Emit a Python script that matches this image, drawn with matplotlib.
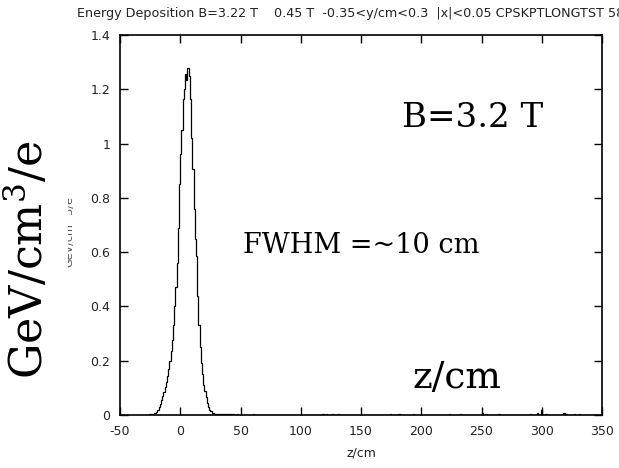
import numpy as np
import matplotlib
matplotlib.use("Agg")
import matplotlib.pyplot as plt
from matplotlib.patches import Rectangle

plt.rcParams['mathtext.fontset'] = 'dejavuserif'

# ---- data ----
bin_width = 1.0          # cm
z_start, z_stop = -30, 350
core_start = -30         # first bin of the peak region
core_values = [
    0, 0, 0, 0, 0.003, 0.003, 0.004, 0.005, 0.006, 0.009,            # -30..-21
    0.012, 0.018, 0.028, 0.042, 0.056, 0.070, 0.085, 0.103, 0.122, 0.143,  # -20..-11
    0.168, 0.200, 0.235, 0.275, 0.330, 0.400, 0.470, 0.560, 0.690, 0.850,  # -10..-1
    0.960, 1.050, 1.165, 1.200, 1.255, 1.235, 1.280, 1.250, 1.165, 1.020,  # 0..9
    0.905, 0.760, 0.650, 0.585, 0.440, 0.330, 0.250, 0.190, 0.150, 0.110,  # 10..19
    0.090, 0.068, 0.045, 0.030, 0.020, 0.013, 0.009, 0.006, 0.005, 0.004,  # 20..29
    0.004, 0.003, 0.004, 0.003, 0.003, 0.004, 0.003, 0.002, 0.003, 0.002,  # 30..39
    0.002, 0.003, 0.002, 0.001, 0.002, 0.001, 0.001, 0.002, 0.001, 0.001,  # 40..49
]
spike_z = [60, 118, 121, 126, 131, 174, 181, 193, 223, 232, 250, 253, 264,
           290, 296, 299, 303, 318, 320, 327, 331]
spike_v = [0.004, 0.004, 0.005, 0.004, 0.004, 0.004, 0.005, 0.005, 0.005, 0.004,
           0.006, 0.004, 0.004, 0.004, 0.006, 0.018, 0.005, 0.009, 0.004, 0.004, 0.004]

title = "Energy Deposition B=3.22 T    0.45 T  -0.35<y/cm<0.3  |x|<0.05 CPSKPTLONGTST 58"
xticks = [-50, 0, 50, 100, 150, 200, 250, 300, 350]
yticks = [0, 0.2, 0.4, 0.6, 0.8, 1.0, 1.2, 1.4]
ytick_labels = ["0", "0.2", "0.4", "0.6", "0.8", "1", "1.2", "1.4"]

# ---- build histogram ----
n_bins = int((z_stop - z_start) / bin_width)
edges = z_start + bin_width * np.arange(n_bins + 1)
values = np.zeros(n_bins)
i0 = int((core_start - z_start) / bin_width)
values[i0:i0 + len(core_values)] = core_values
for z, v in zip(spike_z, spike_v):
    values[int((z - z_start) / bin_width)] = v

W, H = 619, 468
fig = plt.figure(figsize=(W / 100, H / 100), dpi=100)
ax = fig.add_axes([120 / W, 1 - 415 / H, (602 - 120) / W, (415 - 35) / H])

ax.stairs(values, edges, color='black', linewidth=0.9, baseline=None)

ax.set_xlim(-50, 350)
ax.set_ylim(0, 1.4)
ax.set_xticks(xticks)
ax.set_xticklabels([str(t) for t in xticks])
ax.set_yticks(yticks)
ax.set_yticklabels(ytick_labels)
ax.tick_params(direction='in', length=6, width=1.0, top=True, right=True,
               labelsize=9, colors='black', labelcolor='#222222')
ax.tick_params(axis='y', pad=7)
ax.tick_params(axis='x', pad=7)
for s in ax.spines.values():
    s.set_linewidth(1.2)
ax.set_xlabel("z/cm", fontsize=9, color='#222222', labelpad=6)

# title (runs off the right edge as in the original)
fig.text(77 / W, 1 - 13 / H, title, fontsize=9.2, color='#222222',
         ha='left', va='center')

# small original y label (mostly hidden)
fig.text(69 / W, 1 - 232 / H, "GeV/cm^3/e", rotation=90, fontsize=8,
         color='#555555', ha='center', va='center')
fig.patches.append(Rectangle((0, 0), 67.5 / W, 1 - 40 / H, transform=fig.transFigure,
                             facecolor='white', edgecolor='none', zorder=5))

# big serif annotations
fig.text(28 / W, 1 - 260 / H, r"GeV/cm$^3$/e", rotation=90, fontsize=32,
         family='DejaVu Serif', color='black', ha='center', va='center', zorder=6)
fig.text(402 / W, 1 - 127 / H, "B=3.2 T", fontsize=24.5, family='DejaVu Serif',
         color='black', ha='left', va='baseline', zorder=6)
fig.text(243 / W, 1 - 253 / H, "FWHM =~10 cm", fontsize=19.5, family='DejaVu Serif',
         color='black', ha='left', va='baseline', zorder=6)
fig.text(413 / W, 1 - 388 / H, "z/cm", fontsize=27, family='DejaVu Serif',
         color='black', ha='left', va='baseline', zorder=6)

fig.savefig("out.png", dpi=100)
